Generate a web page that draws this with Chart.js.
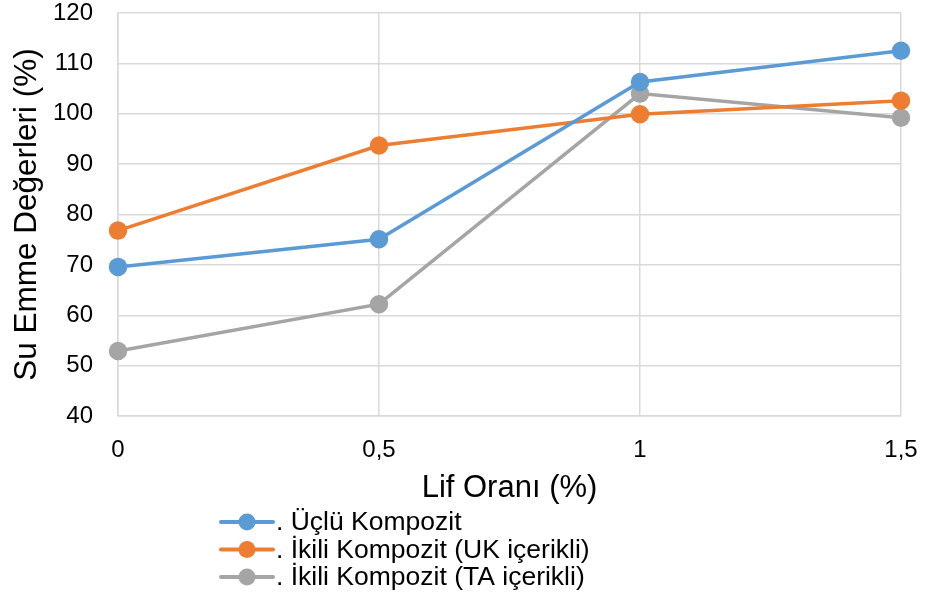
<!DOCTYPE html>
<html>
<head>
<meta charset="utf-8">
<script src="https://cdn.jsdelivr.net/npm/chart.js@4"></script>
<style>
  html, body { margin: 0; padding: 0; background: #fff; }
  #wrap { width: 925px; height: 599px; position: relative; }
</style>
</head>
<body>
<div id="wrap"><canvas id="c" width="925" height="599"></canvas></div>
<script>
// Fibre ratio (%) categories
const fiberRatios = ['0', '0,5', '1', '1,5'];

// Water absorption values (%) per composite type
const ucluKompozit = [69.6, 75.1, 106.3, 112.5];
const ikiliUK = [76.8, 93.7, 99.9, 102.6];
const ikiliTA = [52.9, 62.2, 104.0, 99.2];

const seriesNames = ['. Üçlü Kompozit', '. İkili Kompozit (UK içerikli)', '. İkili Kompozit (TA içerikli)'];
const seriesColors = ['#5B9BD5', '#ED7D31', '#A5A5A5'];

const FONT = '"Liberation Sans", Arial, sans-serif';

function makeSet(i, data) {
  return {
    label: seriesNames[i],
    data: data,
    borderColor: seriesColors[i],
    backgroundColor: seriesColors[i],
    pointBackgroundColor: seriesColors[i],
    pointBorderColor: seriesColors[i],
    borderWidth: 3.5,
    pointRadius: 7.5,
    pointHoverRadius: 7.5,
    tension: 0
  };
}

// Legend drawn below the axis title: line with a dot, then the label
const lineLegend = {
  id: 'lineLegend',
  afterDraw(chart) {
    const ctx = chart.ctx;
    const x0 = 221, y0 = 522, step = 27.5, len = 52;
    ctx.save();
    ctx.font = '26.5px ' + FONT;
    ctx.textBaseline = 'middle';
    ctx.textAlign = 'left';
    chart.data.datasets.forEach((ds, i) => {
      const y = y0 + i * step;
      ctx.strokeStyle = ds.borderColor;
      ctx.lineWidth = 4;
      ctx.lineCap = 'round';
      ctx.beginPath();
      ctx.moveTo(x0, y);
      ctx.lineTo(x0 + len, y);
      ctx.stroke();
      ctx.fillStyle = ds.borderColor;
      ctx.beginPath();
      ctx.arc(x0 + len / 2, y, 8.5, 0, Math.PI * 2);
      ctx.fill();
      ctx.fillStyle = '#000';
      ctx.fillText(ds.label, x0 + len + 3, y + 1);
    });
    ctx.restore();
  }
};

new Chart(document.getElementById('c'), {
  type: 'line',
  data: {
    labels: fiberRatios,
    datasets: [
      makeSet(0, ucluKompozit),
      makeSet(1, ikiliUK),
      makeSet(2, ikiliTA)
    ]
  },
  options: {
    responsive: false,
    animation: false,
    devicePixelRatio: 1,
    layout: { padding: { left: 0, right: 0, top: 0, bottom: 92 } },
    plugins: {
      legend: { display: false },
      tooltip: { enabled: false }
    },
    scales: {
      x: {
        type: 'category',
        offset: false,
        afterFit(scale) {
          scale.height = 91;
          scale.paddingLeft = 0;
          scale.paddingRight = 24;
        },
        grid: { color: '#D9D9D9', lineWidth: 1.5, drawTicks: false },
        border: { color: '#D9D9D9', width: 1.5 },
        ticks: { color: '#000', font: { family: FONT, size: 24 }, padding: 20, maxRotation: 0 },
        title: {
          display: true,
          text: 'Lif Oranı (%)',
          color: '#000',
          font: { family: FONT, size: 31 },
          padding: { top: 5, bottom: 0 }
        }
      },
      y: {
        min: 40,
        max: 120,
        afterFit(scale) {
          scale.width = 118;
          scale.paddingTop = 13;
          scale.paddingBottom = 0;
        },
        grid: { color: '#D9D9D9', lineWidth: 1.5, drawTicks: false },
        border: { color: '#D9D9D9', width: 1.5 },
        ticks: { stepSize: 10, color: '#000', font: { family: FONT, size: 24 }, padding: 25 },
        title: {
          display: true,
          text: 'Su Emme Değerleri (%)',
          color: '#000',
          font: { family: FONT, size: 31.5 },
          padding: { top: 8, bottom: 8 }
        }
      }
    }
  },
  plugins: [lineLegend]
});
</script>
</body>
</html>
